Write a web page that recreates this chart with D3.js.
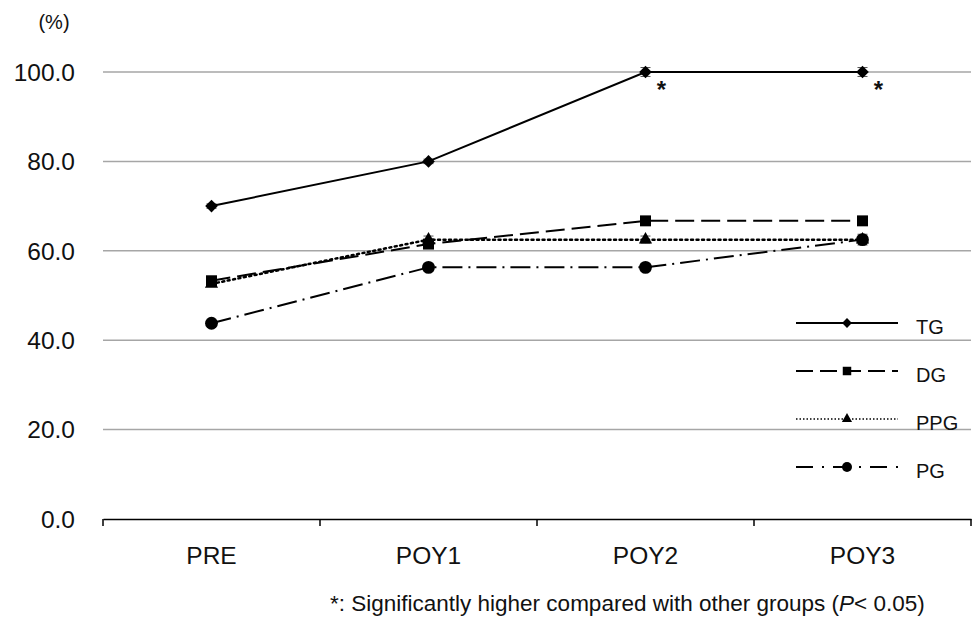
<!DOCTYPE html>
<html>
<head>
<meta charset="utf-8">
<script src="https://cdn.jsdelivr.net/npm/d3@7"></script>
<style>
  body { margin: 0; background: #fff; }
  svg { display: block; font-family: "Liberation Sans", Arial, sans-serif; }
</style>
</head>
<body>
<svg id="chart" width="973" height="620"></svg>
<script>
// Time points and group means (%)
const categories = ["PRE", "POY1", "POY2", "POY3"];
const groups = ["TG", "DG", "PPG", "PG"];
const tgValues  = [70.0, 80.0, 100.0, 100.0];
const dgValues  = [53.3, 61.5, 66.7, 66.7];
const ppgValues = [52.6, 62.5, 62.5, 62.5];
const pgValues  = [43.8, 56.3, 56.3, 62.5];
// Standard errors
const tgErr  = [0.5, 0.5, 1.0, 1.0];
const dgErr  = [0.5, 0.5, 0.5, 0.5];
const ppgErr = [0.5, 0.8, 0.8, 1.2];
const pgErr  = [0.5, 0.8, 0.8, 0.5];
const yTicks = [0, 20, 40, 60, 80, 100];
const footnote = "*: Significantly higher compared with other groups (";
const sigMarks = [{ group: "TG", cat: "POY2" }, { group: "TG", cat: "POY3" }];

// A diamond drawn as a square turned by 45 degrees
const symbolRotSquare = {
  draw(context, size) {
    const r = Math.sqrt(size / 2);
    context.moveTo(0, -r);
    context.lineTo(r, 0);
    context.lineTo(0, r);
    context.lineTo(-r, 0);
    context.closePath();
  }
};

const series = [
  { name: "TG",  values: tgValues,  err: tgErr,  dash: null,       symbol: symbolRotSquare,   size: 80 },
  { name: "DG",  values: dgValues,  err: dgErr,  dash: "19,7",     symbol: d3.symbolSquare,   size: 120 },
  { name: "PPG", values: ppgValues, err: ppgErr, dash: "2,3.5",    symbol: d3.symbolTriangle, size: 75 },
  { name: "PG",  values: pgValues,  err: pgErr,  dash: "20,6,2,6", symbol: d3.symbolCircle,   size: 130 }
];

const svg = d3.select("#chart");
const plotLeft = 103, plotRight = 971, plotTop = 72, plotBottom = 519;

const x = d3.scaleBand().domain(categories).range([plotLeft, plotRight]);
const y = d3.scaleLinear().domain([0, 100]).range([plotBottom, plotTop]);
const cx = c => x(c) + x.bandwidth() / 2;

// Horizontal gridlines
svg.append("g").selectAll("line")
  .data(yTicks.filter(t => t > 0))
  .join("line")
  .attr("x1", plotLeft).attr("x2", plotRight)
  .attr("y1", d => y(d)).attr("y2", d => y(d))
  .attr("stroke", "#a6a6a6").attr("stroke-width", 1.5);

// Y tick labels
svg.append("g").selectAll("text")
  .data(yTicks)
  .join("text")
  .attr("x", 75).attr("y", d => y(d))
  .attr("dy", "0.36em")
  .attr("text-anchor", "end")
  .attr("font-size", 24.5)
  .attr("fill", "#111")
  .text(d => d.toFixed(1));

svg.append("text")
  .attr("x", 54).attr("y", 29)
  .attr("text-anchor", "middle")
  .attr("font-size", 20)
  .attr("fill", "#111")
  .text("(%)");

// X axis
const xAxis = d3.axisBottom(x).tickSize(0).tickSizeOuter(0).tickPadding(28);
const gx = svg.append("g").attr("transform", `translate(0,${plotBottom})`).call(xAxis);
gx.select(".domain").attr("stroke", "#000").attr("stroke-width", 1.5);
gx.selectAll(".tick text").attr("font-size", 24.5).attr("fill", "#111")
  .attr("font-family", "Liberation Sans, Arial, sans-serif");
// Category separator ticks
const sepXs = [plotLeft].concat(categories.map(c => x(c) + x.bandwidth()));
svg.append("g").selectAll("line")
  .data(sepXs)
  .join("line")
  .attr("x1", d => d).attr("x2", d => d)
  .attr("y1", plotBottom).attr("y2", plotBottom + 7)
  .attr("stroke", "#000").attr("stroke-width", 1.5);

const line = d3.line()
  .x((d, i) => cx(categories[i]))
  .y(d => y(d));

// Error bars
series.forEach(s => {
  const g = svg.append("g");
  s.values.forEach((v, i) => {
    const px = cx(categories[i]);
    const y1 = y(v + s.err[i]), y2 = y(v - s.err[i]);
    g.append("line").attr("x1", px).attr("x2", px).attr("y1", y1).attr("y2", y2)
      .attr("stroke", "#555").attr("stroke-width", 1);
    [y1, y2].forEach(yy => g.append("line")
      .attr("x1", px - 5).attr("x2", px + 5).attr("y1", yy).attr("y2", yy)
      .attr("stroke", "#555").attr("stroke-width", 1));
  });
});

// Lines and markers
series.forEach(s => {
  svg.append("path")
    .datum(s.values)
    .attr("d", line)
    .attr("fill", "none")
    .attr("stroke", "#000")
    .attr("stroke-width", s.name === "PPG" ? 2.5 : 2)
    .attr("stroke-linecap", s.name === "PPG" ? "round" : "butt")
    .attr("stroke-dasharray", s.dash);
  svg.append("g").selectAll("path")
    .data(s.values)
    .join("path")
    .attr("transform", (d, i) => `translate(${cx(categories[i])},${y(d)})`)
    .attr("d", d3.symbol().type(s.symbol).size(s.size))
    .attr("fill", "#000");
});

// Significance marks
sigMarks.forEach(m => {
  const s = series.find(d => d.name === m.group);
  const v = s.values[categories.indexOf(m.cat)];
  svg.append("text")
    .attr("x", cx(m.cat) + 16).attr("y", y(v) + 26)
    .attr("text-anchor", "middle")
    .attr("font-size", 24).attr("font-weight", "bold")
    .attr("fill", "#111")
    .text("*");
});

// Legend
const legend = svg.append("g");
series.forEach((s, i) => {
  const ly = 323 + i * 48;
  legend.append("line")
    .attr("x1", 796).attr("x2", 898).attr("y1", ly).attr("y2", ly)
    .attr("stroke", "#000")
    .attr("stroke-width", s.name === "PPG" ? 1.5 : 2)
    .attr("stroke-dasharray", s.name === "PPG" ? "1.5,2" : s.name === "PG" ? "17,9,2,9" : s.name === "DG" ? "17,7" : null);
  legend.append("path")
    .attr("transform", `translate(847,${ly})`)
    .attr("d", d3.symbol().type(s.symbol).size(s.size * 0.6))
    .attr("fill", "#000");
  legend.append("text")
    .attr("x", 916).attr("y", ly + 4).attr("dy", "0.36em")
    .attr("font-size", 20).attr("fill", "#111")
    .text(s.name);
});

// Footnote
const fn = svg.append("text")
  .attr("x", 330).attr("y", 611)
  .attr("font-size", 22.5).attr("fill", "#111");
fn.append("tspan").text(footnote);
fn.append("tspan").attr("font-style", "italic").text("P");
fn.append("tspan").text("< 0.05)");
</script>
</body>
</html>
